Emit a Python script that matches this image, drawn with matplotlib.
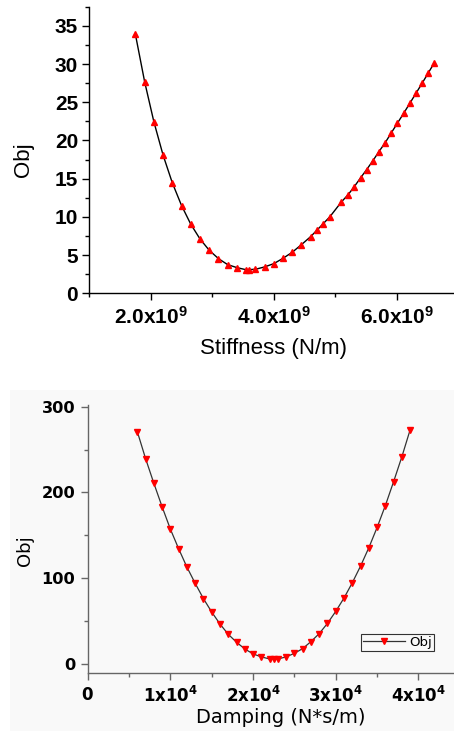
import matplotlib
matplotlib.use("Agg")
import matplotlib.pyplot as plt
from matplotlib.ticker import FixedLocator, MultipleLocator, FuncFormatter
from matplotlib.patches import Rectangle

plt.rcParams['mathtext.fontset'] = 'custom'
plt.rcParams['mathtext.bf'] = 'Liberation Sans:bold'
plt.rcParams['mathtext.rm'] = 'Liberation Sans'

# ---- data: top panel (stiffness sweep) ----
stiffness = [1.75e9, 1.90e9, 2.05e9, 2.20e9, 2.35e9, 2.50e9, 2.65e9, 2.80e9, 2.95e9,
             3.10e9, 3.25e9, 3.40e9, 3.54e9, 3.59e9, 3.70e9, 3.85e9, 4.00e9, 4.15e9,
             4.30e9, 4.45e9, 4.60e9, 4.70e9, 4.80e9, 4.91e9, 5.10e9, 5.21e9, 5.31e9,
             5.41e9, 5.51e9, 5.61e9, 5.71e9, 5.81e9, 5.91e9, 6.01e9, 6.11e9, 6.21e9,
             6.31e9, 6.41e9, 6.51e9, 6.61e9]
obj_stiffness = [33.87, 27.67, 22.44, 18.07, 14.45, 11.48, 9.04, 7.11, 5.63,
                 4.54, 3.75, 3.36, 3.10, 3.10, 3.14, 3.45, 3.88, 4.58,
                 5.37, 6.37, 7.42, 8.25, 9.08, 10.00, 11.96, 12.92, 13.97,
                 15.10, 16.19, 17.33, 18.55, 19.69, 20.99, 22.26, 23.53, 24.84,
                 26.15, 27.46, 28.81, 30.16]
stiff_ticks = [2.0e9, 4.0e9, 6.0e9]

# ---- data: bottom panel (damping sweep) ----
damping = [0.60e4, 0.70e4, 0.80e4, 0.90e4, 1.00e4, 1.10e4, 1.20e4, 1.30e4, 1.40e4,
           1.50e4, 1.60e4, 1.70e4, 1.80e4, 1.90e4, 2.00e4, 2.10e4, 2.20e4, 2.25e4,
           2.30e4, 2.40e4, 2.50e4, 2.60e4, 2.70e4, 2.80e4, 2.90e4, 3.00e4, 3.10e4,
           3.20e4, 3.30e4, 3.40e4, 3.50e4, 3.60e4, 3.70e4, 3.80e4, 3.90e4]
obj_damping = [270.9, 239.4, 210.6, 183.1, 157.0, 134.1, 112.7, 93.7, 75.8,
               60.2, 46.2, 34.2, 24.9, 17.1, 11.3, 7.8, 5.4, 5.4,
               5.4, 7.8, 12.0, 17.5, 25.7, 35.0, 47.0, 61.0, 76.6,
               94.4, 113.9, 135.3, 159.0, 184.6, 212.6, 241.7, 273.2]
damp_ticks = [0, 1e4, 2e4, 3e4, 4e4]
legend_label = "Obj"

W, H = 454, 731
fig = plt.figure(figsize=(W / 100, H / 100), dpi=100)
fig.patch.set_facecolor('white')

bg = '#f9f9f9'
# light grey background behind the lower panel
fig.add_artist(Rectangle((10 / W, 0), 1 - 10 / W, 1 - 390 / H, transform=fig.transFigure,
                         facecolor=bg, edgecolor='none', zorder=-10))

# ---------- top panel ----------
ax1 = fig.add_axes([89.3 / W, 1 - 293.3 / H, 1 - 89.3 / W, (293.3 - 6.7) / H])
ax1.patch.set_alpha(0)
ax1.plot(stiffness, obj_stiffness, color='black', lw=1.0, marker='^', ms=4.0,
         mfc='red', mec='red')
ax1.set_xlim(1.0e9, 6.93e9)
ax1.set_ylim(0, 37.5)
for s in ('top', 'right'):
    ax1.spines[s].set_visible(False)
for s in ('left', 'bottom'):
    ax1.spines[s].set_linewidth(1.0)
ax1.xaxis.set_major_locator(FixedLocator(stiff_ticks))
ax1.xaxis.set_minor_locator(MultipleLocator(1e9))
ax1.yaxis.set_major_locator(MultipleLocator(5))
ax1.yaxis.set_minor_locator(MultipleLocator(2.5))
ax1.xaxis.set_major_formatter(FuncFormatter(
    lambda v, p: r'$\mathbf{%.1fx10^{%d}}$' % (v / 1e9, 9)))
ax1.tick_params(axis='both', which='major', direction='out', length=5, width=1.0)
ax1.tick_params(axis='both', which='minor', direction='out', length=3, width=1.0)
ax1.tick_params(axis='y', labelsize=15, pad=3)
ax1.tick_params(axis='x', labelsize=15, pad=4)
for lab in ax1.get_yticklabels():
    lab.set_fontfamily('Liberation Sans')
    lab.set_fontweight('bold')
ax1.set_xlabel('Stiffness (N/m)', fontsize=16, family='Liberation Sans')
ax1.set_ylabel('Obj', fontsize=16, family='Liberation Sans')
ax1.xaxis.set_label_coords((274 - 89.3) / (W - 89.3), -0.155)
ax1.yaxis.set_label_coords(-0.152, 0.465)

# ---------- bottom panel ----------
gray = '#666666'
ax2 = fig.add_axes([87.7 / W, 1 - 673 / H, 1 - 87.7 / W, (673 - 405) / H])
ax2.patch.set_alpha(0)
ax2.plot(damping, obj_damping, color='#333333', lw=0.9, marker='v', ms=4.0,
         mfc='red', mec='red', label=legend_label)
ax2.set_xlim(0, 4.43e4)
ax2.set_ylim(-11, 302)
for s in ('top', 'right'):
    ax2.spines[s].set_visible(False)
for s in ('left', 'bottom'):
    ax2.spines[s].set_color(gray)
    ax2.spines[s].set_linewidth(1.0)
ax2.xaxis.set_major_locator(FixedLocator(damp_ticks))
ax2.xaxis.set_minor_locator(MultipleLocator(0.5e4))
ax2.yaxis.set_major_locator(MultipleLocator(100))
ax2.yaxis.set_minor_locator(MultipleLocator(50))


def damp_fmt(v, p):
    if v == 0:
        return r'$\mathbf{0}$'
    return r'$\mathbf{%dx10^{4}}$' % round(v / 1e4)


ax2.xaxis.set_major_formatter(FuncFormatter(damp_fmt))
ax2.tick_params(axis='both', which='major', direction='out', length=5, width=1.0,
                color=gray)
ax2.tick_params(axis='both', which='minor', direction='out', length=3, width=1.0,
                color=gray)
ax2.tick_params(axis='y', labelsize=11.7, pad=4)
ax2.tick_params(axis='x', labelsize=12, pad=4)
for lab in ax2.get_xticklabels():
    lab.set_math_fontfamily('dejavusans')
for lab in ax2.get_yticklabels():
    lab.set_fontfamily('DejaVu Sans')
    lab.set_fontweight('bold')
ax2.set_xlabel('Damping (N*s/m)', fontsize=14, family='DejaVu Sans')
ax2.set_ylabel('Obj', fontsize=13, family='DejaVu Sans')
ax2.xaxis.set_label_coords((281 - 87.7) / (W - 87.7), -0.13)
ax2.yaxis.set_label_coords(-0.147, 0.455)

leg = ax2.legend(loc='upper left', bbox_to_anchor=(360.7 / W, 1 - 634 / H),
                 bbox_transform=fig.transFigure, borderaxespad=0,
                 prop={'family': 'DejaVu Sans', 'size': 9.5},
                 handlelength=3.2, handletextpad=0.3, borderpad=0.15,
                 fancybox=False, framealpha=1)
leg.get_frame().set_edgecolor('#333333')
leg.get_frame().set_linewidth(0.8)
leg.get_frame().set_facecolor(bg)

fig.savefig('out.png', dpi=100, facecolor=fig.get_facecolor())
